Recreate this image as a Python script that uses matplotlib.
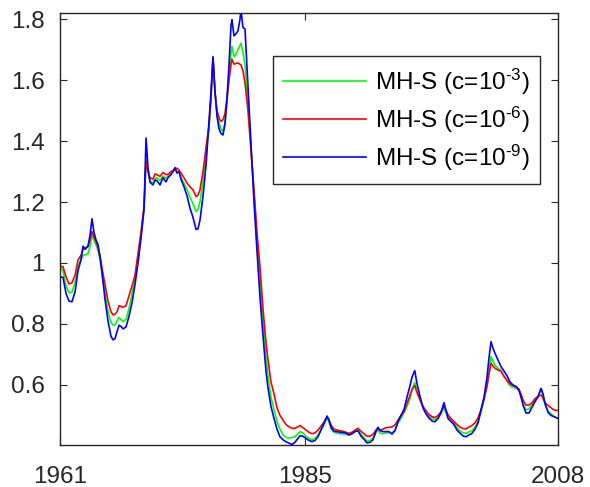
import matplotlib
matplotlib.use('Agg')
from matplotlib import pyplot as plt

# time axis (fractional years) and the three smoothed series
years = [
    1961.00, 1961.28, 1961.57, 1961.85, 1962.13, 1962.42, 1962.70, 1962.98, 1963.17, 1963.36,
    1963.64, 1963.83, 1964.02, 1964.21, 1964.40, 1964.59, 1964.78, 1964.96, 1965.25, 1965.53,
    1965.81, 1966.00, 1966.19, 1966.38, 1966.57, 1966.76, 1966.95, 1967.23, 1967.51, 1967.80,
    1968.08, 1968.36, 1968.64, 1968.93, 1969.12, 1969.31, 1969.49, 1969.78, 1969.97, 1970.15,
    1970.44, 1970.72, 1971.00, 1971.19, 1971.48, 1971.66, 1971.85, 1972.04, 1972.23, 1972.42,
    1972.70, 1972.99, 1973.27, 1973.55, 1973.84, 1974.02, 1974.21, 1974.50, 1974.78, 1975.06,
    1975.25, 1975.44, 1975.63, 1975.82, 1976.01, 1976.19, 1976.38, 1976.57, 1976.76, 1976.95,
    1977.14, 1977.23, 1977.42, 1977.61, 1977.80, 1977.99, 1978.08, 1978.27, 1978.46, 1978.74,
    1979.03, 1979.31, 1979.59, 1979.87, 1980.16, 1980.44, 1980.63, 1980.91, 1981.20, 1981.48,
    1981.76, 1982.05, 1982.33, 1982.61, 1982.90, 1983.18, 1983.46, 1983.65, 1983.93, 1984.22,
    1984.50, 1984.78, 1985.07, 1985.35, 1985.63, 1985.92, 1986.20, 1986.39, 1986.58, 1986.86,
    1987.14, 1987.43, 1987.71, 1987.99, 1988.28, 1988.56, 1988.84, 1989.12, 1989.41, 1989.69,
    1989.97, 1990.26, 1990.54, 1990.82, 1991.01, 1991.20, 1991.48, 1991.77, 1992.05, 1992.33,
    1992.62, 1992.90, 1993.18, 1993.47, 1993.75, 1994.03, 1994.22, 1994.48, 1994.69, 1994.98,
    1995.26, 1995.54, 1995.83, 1996.11, 1996.39, 1996.68, 1996.96, 1997.24, 1997.43, 1997.62,
    1997.90, 1998.18, 1998.47, 1998.75, 1999.03, 1999.32, 1999.60, 1999.88, 2000.17, 2000.45,
    2000.73, 2001.02, 2001.30, 2001.49, 2001.68, 2001.87, 2002.05, 2002.34, 2002.62, 2002.90,
    2003.19, 2003.47, 2003.75, 2004.04, 2004.32, 2004.51, 2004.70, 2004.98, 2005.26, 2005.55,
    2005.83, 2006.11, 2006.40, 2006.59, 2006.77, 2007.06, 2007.34, 2007.62, 2008.00,
]

c3 = [  # c = 1e-3 (green)
    0.988, 0.975, 0.925, 0.903, 0.905, 0.935, 0.990, 1.010, 1.025, 1.027,
    1.030, 1.055, 1.089, 1.075, 1.060, 1.040, 1.010, 0.965, 0.900, 0.840,
    0.805, 0.797, 0.797, 0.810, 0.822, 0.815, 0.808, 0.815, 0.850, 0.900,
    0.945, 1.010, 1.090, 1.180, 1.341, 1.300, 1.270, 1.262, 1.275, 1.280,
    1.270, 1.285, 1.278, 1.285, 1.295, 1.300, 1.305, 1.300, 1.298, 1.280,
    1.262, 1.240, 1.215, 1.195, 1.169, 1.175, 1.200, 1.270, 1.350, 1.440,
    1.540, 1.672, 1.560, 1.490, 1.460, 1.440, 1.431, 1.460, 1.530, 1.610,
    1.690, 1.710, 1.677, 1.685, 1.700, 1.715, 1.721, 1.690, 1.650, 1.530,
    1.380, 1.230, 1.080, 0.950, 0.810, 0.690, 0.630, 0.560, 0.520, 0.480,
    0.455, 0.436, 0.428, 0.426, 0.428, 0.430, 0.440, 0.447, 0.443, 0.432,
    0.424, 0.420, 0.425, 0.436, 0.452, 0.470, 0.491, 0.478, 0.458, 0.445,
    0.442, 0.440, 0.440, 0.438, 0.436, 0.440, 0.447, 0.452, 0.438, 0.428,
    0.416, 0.418, 0.425, 0.445, 0.452, 0.442, 0.440, 0.443, 0.443, 0.443,
    0.452, 0.475, 0.490, 0.509, 0.530, 0.555, 0.585, 0.608, 0.580, 0.551,
    0.525, 0.508, 0.496, 0.490, 0.486, 0.492, 0.505, 0.524, 0.510, 0.496,
    0.486, 0.475, 0.460, 0.450, 0.443, 0.441, 0.446, 0.450, 0.462, 0.480,
    0.510, 0.550, 0.600, 0.650, 0.693, 0.678, 0.665, 0.655, 0.648, 0.630,
    0.612, 0.598, 0.592, 0.590, 0.582, 0.565, 0.540, 0.518, 0.522, 0.536,
    0.550, 0.560, 0.584, 0.565, 0.535, 0.515, 0.505, 0.496, 0.490,
]

c6 = [  # c = 1e-6 (red)
    0.990, 0.988, 0.955, 0.931, 0.935, 0.960, 1.010, 1.025, 1.045, 1.050,
    1.054, 1.075, 1.103, 1.085, 1.070, 1.050, 1.021, 0.985, 0.930, 0.875,
    0.840, 0.830, 0.832, 0.840, 0.860, 0.858, 0.855, 0.860, 0.892, 0.925,
    0.960, 1.030, 1.100, 1.185, 1.333, 1.300, 1.280, 1.275, 1.292, 1.290,
    1.284, 1.297, 1.290, 1.291, 1.300, 1.303, 1.308, 1.311, 1.305, 1.295,
    1.280, 1.262, 1.250, 1.240, 1.218, 1.222, 1.240, 1.300, 1.380, 1.450,
    1.540, 1.672, 1.560, 1.500, 1.475, 1.464, 1.470, 1.490, 1.540, 1.600,
    1.650, 1.669, 1.652, 1.655, 1.656, 1.652, 1.650, 1.630, 1.590, 1.500,
    1.370, 1.240, 1.100, 0.990, 0.850, 0.740, 0.682, 0.610, 0.570, 0.525,
    0.500, 0.485, 0.470, 0.463, 0.458, 0.458, 0.463, 0.467, 0.460, 0.452,
    0.445, 0.440, 0.443, 0.452, 0.465, 0.478, 0.496, 0.485, 0.469, 0.455,
    0.452, 0.450, 0.448, 0.445, 0.441, 0.445, 0.452, 0.458, 0.448, 0.440,
    0.432, 0.432, 0.438, 0.452, 0.458, 0.452, 0.455, 0.460, 0.461, 0.462,
    0.469, 0.485, 0.500, 0.512, 0.540, 0.565, 0.585, 0.598, 0.575, 0.551,
    0.530, 0.515, 0.503, 0.496, 0.493, 0.500, 0.512, 0.531, 0.518, 0.502,
    0.490, 0.480, 0.470, 0.462, 0.457, 0.456, 0.462, 0.467, 0.476, 0.492,
    0.518, 0.555, 0.595, 0.635, 0.671, 0.662, 0.655, 0.649, 0.645, 0.628,
    0.615, 0.603, 0.598, 0.594, 0.586, 0.570, 0.551, 0.534, 0.534, 0.542,
    0.555, 0.562, 0.567, 0.556, 0.542, 0.533, 0.525, 0.518, 0.516,
]

c9 = [  # c = 1e-9 (blue)
    0.955, 0.953, 0.900, 0.875, 0.873, 0.905, 0.975, 1.010, 1.055, 1.045,
    1.055, 1.090, 1.145, 1.100, 1.075, 1.060, 1.020, 0.970, 0.880, 0.810,
    0.760, 0.748, 0.752, 0.775, 0.796, 0.792, 0.784, 0.790, 0.825, 0.870,
    0.930, 1.000, 1.080, 1.175, 1.410, 1.310, 1.265, 1.256, 1.272, 1.270,
    1.256, 1.280, 1.266, 1.280, 1.290, 1.300, 1.313, 1.295, 1.300, 1.275,
    1.250, 1.220, 1.180, 1.150, 1.110, 1.112, 1.140, 1.220, 1.320, 1.460,
    1.560, 1.677, 1.560, 1.480, 1.440, 1.425, 1.420, 1.455, 1.540, 1.650,
    1.780, 1.798, 1.745, 1.752, 1.762, 1.800, 1.830, 1.772, 1.768, 1.580,
    1.380, 1.200, 1.040, 0.890, 0.760, 0.645, 0.590, 0.530, 0.490, 0.455,
    0.430, 0.420, 0.414, 0.409, 0.405, 0.412, 0.425, 0.433, 0.432, 0.424,
    0.418, 0.414, 0.418, 0.430, 0.452, 0.475, 0.498, 0.485, 0.460, 0.448,
    0.447, 0.445, 0.444, 0.442, 0.436, 0.440, 0.447, 0.450, 0.432, 0.422,
    0.410, 0.412, 0.420, 0.448, 0.461, 0.450, 0.447, 0.447, 0.447, 0.439,
    0.450, 0.480, 0.500, 0.520, 0.560, 0.597, 0.625, 0.647, 0.605, 0.562,
    0.525, 0.505, 0.491, 0.482, 0.479, 0.490, 0.510, 0.542, 0.515, 0.490,
    0.480, 0.470, 0.452, 0.442, 0.433, 0.430, 0.436, 0.441, 0.455, 0.475,
    0.518, 0.560, 0.625, 0.690, 0.742, 0.720, 0.704, 0.682, 0.660, 0.646,
    0.630, 0.610, 0.600, 0.595, 0.582, 0.560, 0.534, 0.508, 0.508, 0.527,
    0.545, 0.562, 0.589, 0.570, 0.540, 0.510, 0.500, 0.496, 0.490,
]

labels = [r'MH-S (c=10$^{\text{-3}}$)', r'MH-S (c=10$^{\text{-6}}$)',
          r'MH-S (c=10$^{\text{-9}}$)']
colors = ['#00ff00', '#ff0000', '#0000ff']

xtick_pos = [1961, 1984.1, 2008]
xtick_labels = ['1961', '1985', '2008']
ytick_pos = [0.6, 0.8, 1.0, 1.2, 1.4, 1.6, 1.8]
ytick_labels = ['0.6', '0.8', '1', '1.2', '1.4', '1.6', '1.8']

plt.rcParams['font.family'] = ['Liberation Sans', 'DejaVu Sans']
plt.rcParams['mathtext.fontset'] = 'custom'
plt.rcParams['mathtext.rm'] = 'Liberation Sans'
plt.rcParams['mathtext.it'] = 'Liberation Sans:italic'
plt.rcParams['mathtext.default'] = 'regular'

fig = plt.figure(figsize=(5.9, 4.87), dpi=100)
ax = fig.add_axes([60 / 590, 42 / 487, 498 / 590, 432 / 487])

for series, lab, col in zip([c3, c6, c9], labels, colors):
    ax.plot(years, series, color=col, linewidth=1.2, label=lab)

ax.set_xlim(1961, 2008)
ax.set_ylim(0.403, 1.82)
ax.set_xticks(xtick_pos)
ax.set_xticklabels(xtick_labels)
ax.set_yticks(ytick_pos)
ax.set_yticklabels(ytick_labels)

dark = '#262626'
for sp in ax.spines.values():
    sp.set_color(dark)
    sp.set_linewidth(1.0)
ax.tick_params(axis='both', direction='in', length=5, width=0.8, colors=dark,
               labelsize=17.5, top=True, right=True)
ax.tick_params(axis='x', pad=15)
ax.tick_params(axis='y', pad=11)

leg = ax.legend(loc='upper right', bbox_to_anchor=(0.964, 0.901), fontsize=17.5,
                fancybox=False, framealpha=1, edgecolor=dark, handlelength=3.4,
                handletextpad=0.35, labelspacing=0.32, borderpad=0.45,
                borderaxespad=0)
leg.get_frame().set_linewidth(1.0)
for t in leg.get_texts():
    t.set_color('black')

fig.savefig('out.png', dpi=100)
